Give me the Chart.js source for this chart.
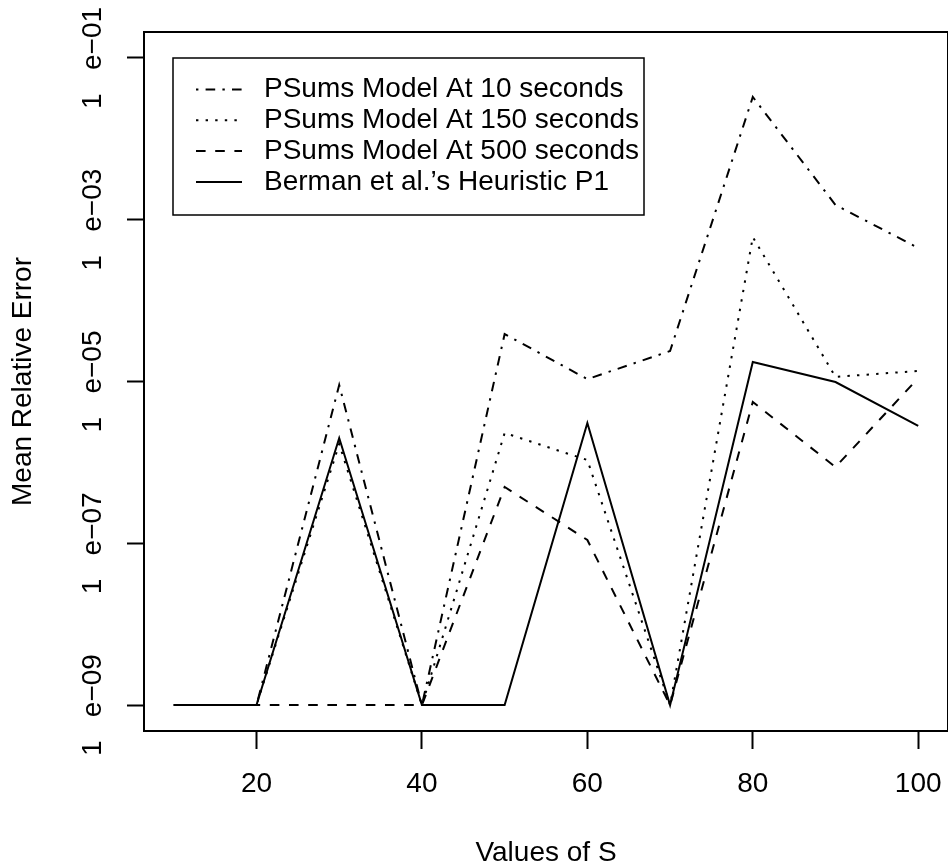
<!DOCTYPE html>
<html><head><meta charset="utf-8">
<script src="https://cdn.jsdelivr.net/npm/chart.js@4/dist/chart.umd.min.js"></script>
<style>html,body{margin:0;padding:0;background:#fff;overflow:hidden}canvas{display:block}</style>
</head><body>
<canvas id="c" width="948" height="867" style="width:948px;height:867px"></canvas>
<script>
// ---- data ----
const xValues = [10, 20, 30, 40, 50, 60, 70, 80, 90, 100];
const seriesLabels = [
  "PSums Model At 10 seconds",
  "PSums Model At 150 seconds",
  "PSums Model At 500 seconds",
  "Berman et al.\u2019s Heuristic P1"
];
const psums10  = [1e-9, 1e-9, 9.06e-6, 1e-9, 3.86e-5, 1.07e-5, 2.38e-5, 3.29e-2, 1.52e-3, 4.47e-4];
const psums150 = [1e-9, 1e-9, 1.69e-6, 1e-9, 2.31e-6, 1.07e-6, 1e-9, 6.1e-4, 1.14e-5, 1.35e-5];
const psums500 = [1e-9, 1e-9, 1e-9, 1e-9, 4.97e-7, 1.1e-7, 1e-9, 5.58e-6, 8.77e-7, 1.1e-5];
const berman   = [1e-9, 1e-9, 2.0e-6, 1e-9, 1e-9, 3.07e-6, 1e-9, 1.74e-5, 9.86e-6, 2.82e-6];
const xTickValues = [20, 40, 60, 80, 100];
const xTickLabels = ["20", "40", "60", "80", "100"];
const yTickValues = [1e-9, 1e-7, 1e-5, 1e-3, 1e-1];
const yTickLabels = ["1   e\u221209", "1   e\u221207", "1   e\u221205", "1   e\u221203", "1   e\u221201"];
const xTitle = "Values of S";
const yTitle = "Mean Relative Error";

// ---- styles ----
const FAMILY = '"Liberation Sans", Arial, Helvetica, sans-serif';
const dashes = [[2.4, 7.2, 9.6, 7.2], [2.4, 7.2], [9.6, 9.6], []];
const allSeries = [psums10, psums150, psums500, berman];

const datasets = allSeries.map((vals, i) => ({
  label: seriesLabels[i],
  data: xValues.map((x, j) => ({x: x, y: vals[j]})),
  borderColor: '#000',
  borderWidth: 2,
  borderDash: dashes[i],
  borderCapStyle: 'butt',
  pointRadius: 0,
  fill: false,
  tension: 0
}));

const framePlugin = {
  id: 'frame',
  afterDatasetsDraw(chart) {
    const ctx = chart.ctx, a = chart.chartArea;
    ctx.save();
    // legend box (R style, inside plot)
    const lx = 173, ly = 58, lw = 471, lh = 157;
    ctx.setLineDash([]);
    ctx.lineWidth = 1.5;
    ctx.strokeStyle = '#000';
    ctx.strokeRect(lx, ly, lw, lh);
    ctx.font = '28px ' + FAMILY;
    ctx.textBaseline = 'middle';
    ctx.textAlign = 'left';
    ctx.fillStyle = '#000';
    chart.data.datasets.forEach((ds, i) => {
      const y = 89.5 + i * 30.8;
      ctx.setLineDash(ds.borderDash || []);
      ctx.lineWidth = ds.borderWidth;
      ctx.lineCap = 'butt';
      ctx.beginPath();
      ctx.moveTo(196, y);
      ctx.lineTo(242, y);
      ctx.stroke();
      ctx.setLineDash([]);
      ctx.fillText(ds.label, 264, y);
    });
    // plot box
    ctx.setLineDash([]);
    ctx.lineWidth = 2;
    ctx.strokeRect(a.left, a.top, a.right - a.left, a.bottom - a.top);
    ctx.restore();
  }
};

new Chart(document.getElementById('c'), {
  type: 'line',
  data: {datasets: datasets},
  options: {
    responsive: false,
    animation: false,
    devicePixelRatio: 1,
    layout: {padding: {left: 0, top: 32, right: 0, bottom: 0}},
    plugins: {legend: {display: false}, tooltip: {enabled: false}},
    scales: {
      x: {
        type: 'linear',
        position: 'bottom',
        min: 6.4,
        max: 103.6,
        afterBuildTicks: s => { s.ticks = xTickValues.map(v => ({value: v})); },
        afterFit: s => { s.height = 136; s.paddingLeft = 0; s.paddingRight = 0; },
        grid: {drawOnChartArea: false, drawTicks: true, tickLength: 18, tickWidth: 2, tickColor: '#000'},
        border: {display: false},
        ticks: {
          autoSkip: false, minRotation: 0, maxRotation: 0, padding: 18,
          color: '#000', font: {family: FAMILY, size: 28},
          callback: (v, i) => xTickLabels[i]
        },
        title: {display: true, text: xTitle, color: '#000',
          font: {family: FAMILY, size: 28, lineHeight: 1}, padding: {top: 0, bottom: 0}}
      },
      y: {
        type: 'logarithmic',
        position: 'left',
        min: Math.pow(10, -9.32),
        max: Math.pow(10, -0.68),
        afterBuildTicks: s => { s.ticks = yTickValues.map(v => ({value: v})); },
        afterFit: s => { s.width = 144; s.paddingTop = 0; s.paddingBottom = 0; },
        grid: {drawOnChartArea: false, drawTicks: true, tickLength: 17, tickWidth: 2, tickColor: '#000'},
        border: {display: false},
        ticks: {
          autoSkip: false, minRotation: 90, maxRotation: 90, crossAlign: 'center', padding: -17,
          color: '#000', font: {family: FAMILY, size: 28},
          callback: (v, i) => yTickLabels[i]
        },
        title: {display: true, text: yTitle, color: '#000',
          font: {family: FAMILY, size: 28, lineHeight: 1}, padding: {top: 9, bottom: 0}}
      }
    }
  },
  plugins: [framePlugin]
});
</script>
</body></html>
